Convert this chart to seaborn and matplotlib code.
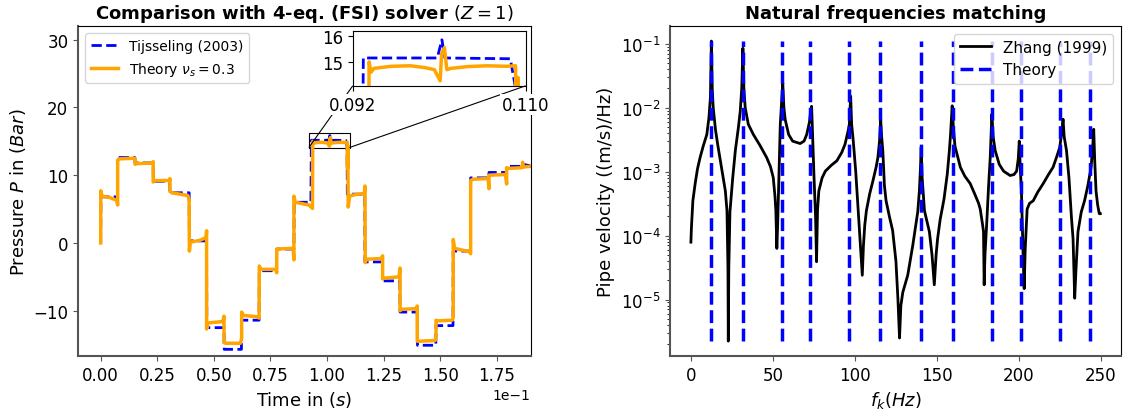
import matplotlib
matplotlib.use("Agg")
import matplotlib.pyplot as plt
import seaborn as sns
import pandas as pd
from mpl_toolkits.axes_grid1.inset_locator import mark_inset

# --- Left panel: pressure history (time in s, pressure in bar) ---
tij_t = [0.0, 0.0001, 0.00745, 0.0075, 0.0151, 0.0152, 0.0232, 0.0233, 0.0305, 0.0306,
         0.0391, 0.0392, 0.0468, 0.0469, 0.0545, 0.0546, 0.0622, 0.0623, 0.0700, 0.0701,
         0.0777, 0.0778, 0.0854, 0.0855, 0.0929, 0.0931, 0.1008, 0.10128, 0.1016, 0.1084,
         0.1089, 0.1090, 0.1167, 0.1168, 0.1245, 0.1246, 0.1322, 0.1323, 0.1399, 0.1400,
         0.1481, 0.1482, 0.1557, 0.1558, 0.1634, 0.1635, 0.1715, 0.1716, 0.1793, 0.1794,
         0.1864, 0.1865, 0.1897]
tij_p = [0.0, 6.8, 6.8, 12.6, 12.6, 11.8, 11.8, 9.1, 9.1, 7.4,
         7.4, 0.3, 0.3, -12.5, -12.5, -15.7, -15.7, -11.4, -11.4, -4.1,
         -4.1, -0.9, -0.9, 6.0, 6.0, 15.15, 15.15, 15.85, 15.15, 15.12,
         14.1, 7.2, 7.2, -2.8, -2.8, -5.6, -5.6, -10.2, -10.2, -15.1,
         -15.1, -12.2, -12.2, -1.2, -1.2, 9.6, 9.6, 10.4, 10.4, 11.3,
         11.3, 11.6, 11.4]

theory_t = [0.0, 0.00005, 0.0006, 0.0040, 0.0071, 0.0075, 0.0075, 0.0080, 0.0150, 0.0152,
            0.0152, 0.0160, 0.0230, 0.0232, 0.0232, 0.0240, 0.0304, 0.0306, 0.0306, 0.0315,
            0.0385, 0.0391, 0.0392, 0.0396, 0.0440, 0.0466, 0.0468, 0.0468, 0.0474, 0.0540,
            0.0545, 0.0545, 0.0552, 0.0618, 0.0623, 0.0623, 0.0630, 0.0695, 0.0700, 0.0701,
            0.0708, 0.0773, 0.0778, 0.0778, 0.0850, 0.0854, 0.0854, 0.0860, 0.0920, 0.0936,
            0.0937, 0.0939, 0.0942, 0.0960, 0.0980, 0.0995, 0.1005, 0.1011, 0.10125, 0.10154,
            0.1018, 0.1022, 0.1040, 0.1060, 0.1080, 0.10895, 0.10905, 0.1092, 0.1094, 0.1100,
            0.1120, 0.1165, 0.1168, 0.1169, 0.1175, 0.1240, 0.1246, 0.1246, 0.1255, 0.1318,
            0.1323, 0.1323, 0.1330, 0.1394, 0.1399, 0.1399, 0.1410, 0.1478, 0.1482, 0.1482,
            0.1490, 0.1553, 0.1558, 0.1558, 0.1564, 0.1630, 0.1635, 0.1635, 0.1645, 0.1712,
            0.1716, 0.1716, 0.1725, 0.1790, 0.1794, 0.1794, 0.1802, 0.1862, 0.1865, 0.1866,
            0.1897]
theory_p = [0.0, 7.7, 6.9, 6.7, 6.3, 5.6, 12.2, 12.4, 12.5, 12.4,
            11.6, 11.7, 11.8, 12.0, 9.0, 9.2, 9.2, 9.5, 7.6, 7.4,
            7.0, 6.4, -1.2, 0.1, 0.4, 0.8, 1.8, -12.7, -11.8, -11.6,
            -10.8, -14.7, -14.8, -14.8, -14.0, -10.2, -10.7, -10.9, -11.1, -3.4,
            -3.9, -3.9, -4.4, -0.9, -0.8, -2.5, 6.9, 6.0, 5.6, 5.1,
            15.0, 14.6, 14.75, 14.83, 14.85, 14.78, 14.70, 14.27, 15.3, 15.55,
            14.7, 14.75, 14.82, 14.85, 14.83, 14.85, 11.0, 14.4, 5.3, 6.9,
            7.1, 7.3, 8.4, -2.9, -2.4, -2.3, -1.9, -5.3, -5.2, -5.0,
            -3.7, -10.0, -9.8, -9.7, -9.3, -14.5, -14.5, -14.4, -14.0, -11.4,
            -11.5, -11.4, -11.0, 0.5, -0.8, -1.3, -1.6, 9.2, 9.4, 9.5,
            8.0, 10.0, 10.0, 10.1, 8.7, 11.1, 11.0, 11.1, 11.9, 11.2,
            11.3]

# --- Right panel: frequency response ---
zhang_f = [0.0, 0.3, 1.2, 2.6, 4.0, 5.6, 7.5, 9.7, 11.0, 11.9,
           12.5, 13.0, 13.6, 15.0, 16.5, 19.0, 21.0, 22.0, 22.6, 22.8,
           23.1, 23.8, 25.5, 27.1, 29.0, 30.1, 31.0, 31.7, 32.3, 33.1,
           35.0, 38.1, 42.0, 46.2, 48.5, 50.2, 51.3, 51.8, 52.4, 52.9,
           53.5, 54.5, 55.3, 56.0, 56.7, 57.5, 59.6, 62.0, 66.6, 69.0,
           70.6, 72.3, 73.0, 73.6, 74.3, 75.0, 76.0, 76.6, 77.2, 78.0,
           80.0, 82.0, 85.5, 89.0, 92.0, 94.0, 96.0, 96.6, 97.4, 98.0,
           99.0, 100.5, 102.0, 103.5, 104.5, 105.2, 106.0, 107.0, 109.0, 111.0,
           113.0, 114.0, 115.0, 115.7, 116.3, 117.0, 118.0, 119.0, 121.0, 123.0,
           125.0, 126.2, 127.2, 128.0, 129.2, 132.2, 135.3, 137.0, 138.3, 139.3,
           140.0, 140.4, 141.0, 142.4, 145.4, 147.0, 148.4, 149.5, 150.4, 152.0,
           154.3, 156.3, 157.5, 158.3, 159.3, 160.0, 161.0, 164.3, 167.0, 170.3,
           173.0, 175.4, 176.4, 177.8, 178.4, 178.8, 179.3, 180.5, 181.5, 182.5,
           183.5, 184.3, 185.5, 188.0, 190.6, 194.6, 197.0, 198.6, 199.6, 200.2,
           200.8, 201.5, 202.6, 203.2, 203.8, 205.0, 206.5, 208.7, 211.5, 214.8,
           218.0, 220.8, 223.0, 224.9, 226.0, 226.9, 227.6, 229.0, 230.5, 232.0,
           233.0, 234.0, 234.8, 236.0, 238.0, 240.0, 242.0, 244.0, 245.0, 245.6,
           246.2, 247.0, 248.0, 249.0, 249.6]
zhang_v = [7.9e-5, 1.3e-4, 3.5e-4, 6.5e-4, 1.1e-3, 1.66e-3, 2.5e-3, 3.8e-3, 7.0e-3, 1.45e-2,
           1.10e-1, 2.0e-2, 1.0e-2, 4.5e-3, 2.5e-3, 1.02e-3, 5.0e-4, 2.45e-4, 3.0e-5, 2.24e-6,
           3.0e-5, 2.34e-4, 8.0e-4, 2.14e-3, 5.0e-3, 8.9e-3, 2.0e-2, 8.5e-2, 2.0e-2, 1.0e-2,
           5.5e-3, 3.8e-3, 2.6e-3, 1.66e-3, 1.2e-3, 8.1e-4, 4.0e-4, 2.45e-4, 6.3e-5, 1.5e-4,
           6.0e-4, 5.5e-3, 1.2e-2, 2.45e-2, 1.0e-2, 6.5e-3, 3.8e-3, 3.0e-3, 2.75e-3, 3.0e-3,
           3.8e-3, 6.0e-3, 8.9e-3, 1.05e-2, 3.0e-3, 9.1e-4, 2.0e-4, 3.9e-5, 2.5e-4, 5.0e-4,
           8.0e-4, 1.02e-3, 1.25e-3, 1.48e-3, 2.0e-3, 2.7e-3, 4.5e-3, 5.5e-3, 1.51e-2, 5.5e-3,
           3.0e-3, 1.0e-3, 2.45e-4, 6.0e-5, 2.4e-5, 7.0e-5, 1.45e-4, 2.45e-4, 4.5e-4, 7.2e-4,
           1.2e-3, 1.66e-3, 3.0e-3, 6.6e-3, 3.5e-3, 2.14e-3, 6.0e-4, 3.5e-4, 2.0e-4, 1.2e-4,
           4.0e-5, 1.05e-5, 2.5e-6, 8.0e-6, 1.3e-5, 2.4e-5, 7.1e-5, 1.4e-4, 2.34e-4, 5.0e-4,
           1.2e-3, 2.4e-3, 8.0e-4, 2.45e-4, 1.15e-4, 5.0e-5, 1.7e-5, 5.0e-5, 8.9e-5, 1.8e-4,
           3.7e-4, 9.1e-4, 2.0e-3, 3.8e-3, 1.07e-2, 5.0e-3, 2.5e-3, 1.17e-3, 8.5e-4, 6.5e-4,
           4.5e-4, 3.2e-4, 2.6e-4, 1.5e-4, 1.15e-4, 1.7e-5, 5.0e-5, 1.82e-4, 6.0e-4, 1.66e-3,
           7.9e-3, 3.5e-3, 2.14e-3, 1.3e-3, 1.02e-3, 8.7e-4, 9.0e-4, 1.02e-3, 1.6e-3, 3.0e-3,
           1.2e-3, 5.0e-4, 4.4e-5, 1.48e-5, 6.0e-5, 2.6e-4, 3.2e-4, 3.5e-4, 4.8e-4, 6.5e-4,
           9.0e-4, 1.17e-3, 1.7e-3, 2.4e-3, 4.0e-3, 6.6e-3, 3.5e-3, 2.14e-3, 8.0e-4, 1.95e-4,
           8.9e-5, 1.05e-5, 3.0e-5, 1.15e-4, 2.34e-4, 3.5e-4, 6.0e-4, 1.17e-3, 2.5e-3, 4.6e-3,
           1.5e-3, 5.0e-4, 3.0e-4, 2.2e-4, 2.2e-4]
theory_freqs = [12.1, 31.7, 55.5, 72.6, 96.4, 115.5, 140.2, 159.7, 183.5, 201.0, 224.9, 243.6]


def style_axes(ax):
    """Gray, thicker left/bottom spines like the reference."""
    for side in ["left", "bottom"]:
        ax.spines[side].set_color("#555555")
        ax.spines[side].set_linewidth(1.5)
    ax.tick_params(labelsize=12, color="#555555")


fig = plt.figure(figsize=(11.23, 4.10), dpi=100)
ax1 = fig.add_axes([0.0695, 0.129, 0.403, 0.805])
ax2 = fig.add_axes([0.597, 0.129, 0.401, 0.805])

# Left panel
df_tij = pd.DataFrame({"t": tij_t, "p": tij_p})
df_th = pd.DataFrame({"t": theory_t, "p": theory_p})
sns.lineplot(data=df_tij, x="t", y="p", ax=ax1, color="blue", linestyle="--", lw=2,
             estimator=None, sort=False, label="Tijsseling (2003)")
sns.lineplot(data=df_th, x="t", y="p", ax=ax1, color="orange", lw=2.5,
             estimator=None, sort=False, label=r"Theory $\nu_s=0.3$")
ax1.set_xlim(-0.01, 0.19)
ax1.set_ylim(-16.7, 32)
ax1.ticklabel_format(axis="x", style="sci", scilimits=(-1, -1))
ax1.set_xlabel(r"Time in $(s)$", fontsize=13)
ax1.set_ylabel(r"Pressure $P$ in $(Bar)$", fontsize=13)
ax1.set_title(r"Comparison with 4-eq. (FSI) solver $(Z=1)$", fontweight="bold", fontsize=13)
ax1.legend(loc="upper left", fontsize=10)
style_axes(ax1)

# Zoomed inset
axins = ax1.inset_axes([0.607, 0.819, 0.382, 0.167])
sns.lineplot(data=df_tij, x="t", y="p", ax=axins, color="blue", linestyle="--", lw=2,
             estimator=None, sort=False, legend=False)
sns.lineplot(data=df_th, x="t", y="p", ax=axins, color="orange", lw=2.5,
             estimator=None, sort=False, legend=False)
axins.set_xlim(0.092, 0.110)
axins.set_ylim(14.08, 16.2)
axins.set_xticks([0.092, 0.110])
axins.set_xticklabels(["0.092", "0.110"],
                      bbox=dict(facecolor="white", edgecolor="none", pad=1))
axins.set_yticks([15, 16])
axins.set_xlabel("")
axins.set_ylabel("")
axins.tick_params(labelsize=12)
mark_inset(ax1, axins, loc1=3, loc2=4, fc="none", ec="black", lw=0.8)

# Right panel
df_z = pd.DataFrame({"f": zhang_f, "v": zhang_v})
sns.lineplot(data=df_z, x="f", y="v", ax=ax2, color="black", lw=2,
             estimator=None, sort=False, label="Zhang (1999)")
ax2.vlines(theory_freqs, min(zhang_v), max(zhang_v), colors="blue",
           linestyles="--", lw=2.5, label="Theory")
ax2.set_yscale("log")
ax2.set_xlabel(r"$f_k (Hz)$", fontsize=13)
ax2.set_ylabel("Pipe velocity ((m/s)/Hz)", fontsize=13)
ax2.set_title("Natural frequencies matching", fontweight="bold", fontsize=13)
ax2.legend(loc="upper right", fontsize=11)
style_axes(ax2)

fig.savefig("out.png", dpi=100)
